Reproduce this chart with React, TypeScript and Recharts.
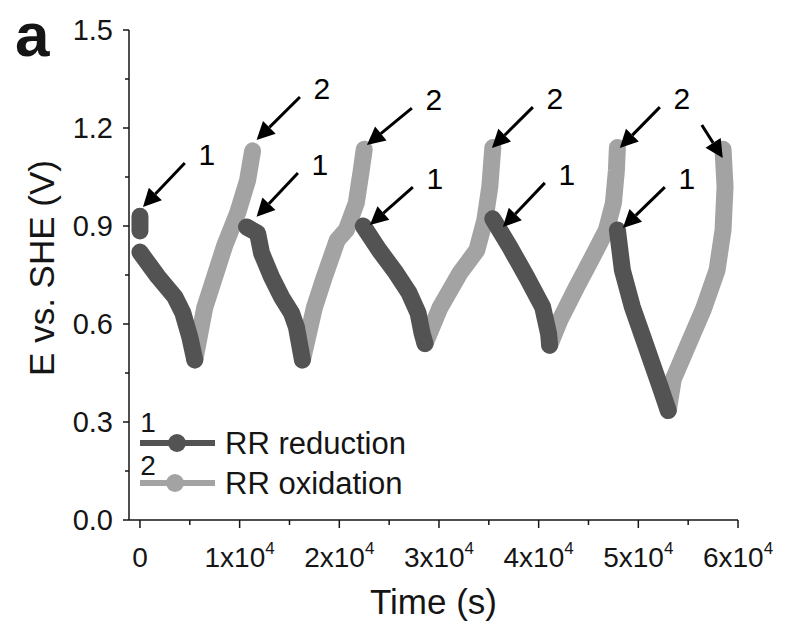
import React from "react";
import {
  LineChart,
  Line,
  XAxis,
  YAxis,
  ReferenceLine,
  Label,
} from "recharts";

// E vs. SHE (V) against time (s), one [t, E] list per half cycle
const reductionBlob = [[0, 0.93], [0, 0.885]];
const reductionCycles = [
  [[0, 0.82], [1800, 0.745], [3500, 0.683], [4300, 0.634], [5000, 0.56], [5500, 0.49]],
  [[10700, 0.897], [11800, 0.878], [12200, 0.817], [13200, 0.744], [14200, 0.683], [15200, 0.634], [15700, 0.59], [16300, 0.49]],
  [[22400, 0.9], [24000, 0.826], [25700, 0.756], [27000, 0.695], [27900, 0.634], [28300, 0.572], [28600, 0.54]],
  [[35400, 0.922], [37100, 0.836], [38800, 0.744], [40400, 0.652], [41000, 0.57], [41100, 0.535]],
  [[47900, 0.888], [48400, 0.765], [49400, 0.652], [50800, 0.53], [52200, 0.407], [53000, 0.335]],
];
const oxidationCycles = [
  [[5500, 0.49], [6500, 0.65], [8500, 0.84], [9800, 0.94], [10800, 1.04], [11300, 1.13]],
  [[16300, 0.49], [17500, 0.65], [18500, 0.744], [19800, 0.857], [20700, 0.888], [21700, 0.97], [22200, 1.07], [22500, 1.135]],
  [[28600, 0.54], [30100, 0.65], [32100, 0.756], [33800, 0.826], [34600, 0.918], [35100, 1.02], [35400, 1.14]],
  [[41100, 0.535], [42100, 0.61], [43800, 0.713], [45400, 0.805], [46800, 0.888], [47500, 0.97], [47800, 1.07], [47900, 1.14]],
  [[53000, 0.335], [53500, 0.43], [54900, 0.53], [56500, 0.643], [57900, 0.765], [58500, 0.888], [58700, 1.02], [58500, 1.135]],
];

// arrows: tail (t, E) -> head (t, E), with the number written at the tail
const arrows = [
  { t0: 4500, e0: 1.093, t1: 300, e1: 0.958, label: "1" },
  { t0: 16050, e0: 1.295, t1: 11700, e1: 1.163, label: "2" },
  { t0: 15850, e0: 1.062, t1: 11700, e1: 0.928, label: "1" },
  { t0: 27280, e0: 1.261, t1: 22770, e1: 1.148, label: "2" },
  { t0: 27380, e0: 1.019, t1: 23070, e1: 0.903, label: "1" },
  { t0: 39420, e0: 1.264, t1: 35310, e1: 1.139, label: "2" },
  { t0: 40620, e0: 1.032, t1: 36410, e1: 0.897, label: "1" },
  { t0: 52160, e0: 1.264, t1: 48140, e1: 1.139, label: "2" },
  { t0: 52660, e0: 1.019, t1: 48450, e1: 0.894, label: "1" },
  { t0: 56370, e0: 1.209, t1: 58470, e1: 1.108, label: "" },
];

const xTicks = [0, 5000, 10000, 15000, 20000, 25000, 30000, 35000, 40000, 45000, 50000, 55000, 60000];
const yTicks = [0, 0.15, 0.3, 0.45, 0.6, 0.75, 0.9, 1.05, 1.2, 1.35, 1.5];

const RED = "#535353";
const OX = "#a3a3a3";
const INK = "#151515";
const FONT = "'Liberation Sans', Arial, sans-serif";

// join the cycles into one list, with a null point between them so the line breaks
function withGaps(cycles: number[][][]) {
  const out: { t: number; E: number | null }[] = [];
  cycles.forEach((c, i) => {
    if (i > 0) out.push({ t: c[0][0], E: null });
    c.forEach(([t, E]) => out.push({ t, E }));
  });
  return out;
}

const reductionData = withGaps([reductionBlob, ...reductionCycles]);
const oxidationData = withGaps(oxidationCycles);

function XTick({ x, y, payload }: any) {
  const v = payload.value;
  const major = v % 10000 === 0;
  return (
    <g>
      <line x1={x} y1={y} x2={x} y2={y + (major ? 8 : 5)} stroke={INK} strokeWidth={1.5} />
      {major && (
        <text x={x} y={y + 47} textAnchor="middle" fontFamily={FONT} fontSize={28} fill={INK}>
          {v === 0 ? (
            "0"
          ) : (
            <>
              <tspan>{`${v / 10000}x10`}</tspan>
              <tspan fontSize={17} dy={-13}>4</tspan>
            </>
          )}
        </text>
      )}
    </g>
  );
}

function YTick({ x, y, payload }: any) {
  const v = payload.value;
  const major = Math.round(v * 100) % 30 === 0;
  return (
    <g>
      <line x1={x} y1={y} x2={x - (major ? 6 : 4)} y2={y} stroke={INK} strokeWidth={1.5} />
      {major && (
        <text x={x - 16} y={y + 10} textAnchor="end" fontFamily={FONT} fontSize={29} fill={INK}>
          {v.toFixed(1)}
        </text>
      )}
    </g>
  );
}

function Arrow({ x1, y1, x2, y2, label }: any) {
  const dx = x2 - x1;
  const dy = y2 - y1;
  const len = Math.sqrt(dx * dx + dy * dy);
  const ux = dx / len;
  const uy = dy / len;
  const headLen = 18;
  const headW = 9;
  const bx = x2 - ux * headLen;
  const by = y2 - uy * headLen;
  const pts = `${x2},${y2} ${bx - uy * headW},${by + ux * headW} ${bx + uy * headW},${by - ux * headW}`;
  return (
    <g>
      <line x1={x1} y1={y1} x2={bx} y2={by} stroke="#000" strokeWidth={3} />
      <polygon points={pts} fill="#000" />
      {label && (
        <text x={x1 + 22} y={y1 + 2} textAnchor="middle" fontFamily={FONT} fontSize={30} fill="#000">
          {label}
        </text>
      )}
    </g>
  );
}

function Overlay() {
  return (
    <svg width={785} height={632} style={{ position: "absolute", left: 0, top: 0, pointerEvents: "none" }}>
      <text x={15} y={56} fontFamily={FONT} fontWeight="bold" fontSize={62} fill={INK}>a</text>
      <g transform="translate(135, 405)">
        <text x={13} y={27} textAnchor="middle" fontFamily={FONT} fontSize={28} fill={INK}>1</text>
        <line x1={5} y1={38} x2={80} y2={38} stroke={RED} strokeWidth={6} />
        <circle cx={42} cy={38} r={9} fill={RED} />
        <text x={90} y={49} fontFamily={FONT} fontSize={31} fill={INK}>RR reduction</text>
        <text x={13} y={70} textAnchor="middle" fontFamily={FONT} fontSize={28} fill={INK}>2</text>
        <line x1={5} y1={78} x2={80} y2={78} stroke={OX} strokeWidth={6} />
        <circle cx={40} cy={78} r={9} fill={OX} />
        <text x={90} y={89} fontFamily={FONT} fontSize={31} fill={INK}>RR oxidation</text>
      </g>
    </svg>
  );
}

export default function App() {
  return (
    <div style={{ position: "fixed", left: 0, top: 0, width: 785, height: 632, background: "#fff" }}>
      <LineChart width={785} height={632} margin={{ top: 30, right: 47, bottom: 52, left: 0 }}>
        <XAxis
          xAxisId="top"
          orientation="top"
          type="number"
          domain={[-1100, 60000]}
          height={0}
          tick={false}
          tickLine={false}
          axisLine={{ stroke: INK, strokeWidth: 1.5 }}
        />
        <YAxis
          yAxisId="right"
          orientation="right"
          type="number"
          domain={[0, 1.5]}
          width={0}
          tick={false}
          tickLine={false}
          axisLine={{ stroke: INK, strokeWidth: 1.5 }}
        />
        <XAxis
          dataKey="t"
          type="number"
          domain={[-1100, 60000]}
          allowDataOverflow
          ticks={xTicks}
          interval={0}
          height={60}
          tickSize={0}
          tickMargin={0}
          tickLine={false}
          tick={<XTick />}
          axisLine={{ stroke: INK, strokeWidth: 1.5 }}
        >
          <Label
            content={({ viewBox }: any) => (
              <text
                x={viewBox.x + viewBox.width / 2}
                y={viewBox.y + 94}
                textAnchor="middle"
                fontFamily={FONT}
                fontSize={35}
                fill={INK}
              >
                Time (s)
              </text>
            )}
          />
        </XAxis>
        <YAxis
          type="number"
          domain={[0, 1.5]}
          allowDataOverflow
          ticks={yTicks}
          interval={0}
          width={129}
          tickSize={0}
          tickMargin={0}
          tickLine={false}
          tick={<YTick />}
          axisLine={{ stroke: INK, strokeWidth: 1.5 }}
        >
          <Label
            content={() => (
              <text
                x={0}
                y={0}
                transform="translate(54, 268) rotate(-90)"
                textAnchor="middle"
                fontFamily={FONT}
                fontSize={35}
                fill={INK}
              >
                E vs. SHE (V)
              </text>
            )}
          />
        </YAxis>
        <Line
          data={oxidationData}
          dataKey="E"
          type="linear"
          stroke={OX}
          strokeWidth={17}
          strokeLinecap="round"
          strokeLinejoin="round"
          dot={false}
          activeDot={false}
          connectNulls={false}
          isAnimationActive={false}
        />
        <Line
          data={reductionData}
          dataKey="E"
          type="linear"
          stroke={RED}
          strokeWidth={17}
          strokeLinecap="round"
          strokeLinejoin="round"
          dot={false}
          activeDot={false}
          connectNulls={false}
          isAnimationActive={false}
        />
        {arrows.map((a, i) => (
          <ReferenceLine
            key={i}
            segment={[
              { x: a.t0, y: a.e0 },
              { x: a.t1, y: a.e1 },
            ]}
            ifOverflow="visible"
            shape={(p: any) => <Arrow {...p} label={a.label} />}
          />
        ))}
      </LineChart>
      <Overlay />
    </div>
  );
}
